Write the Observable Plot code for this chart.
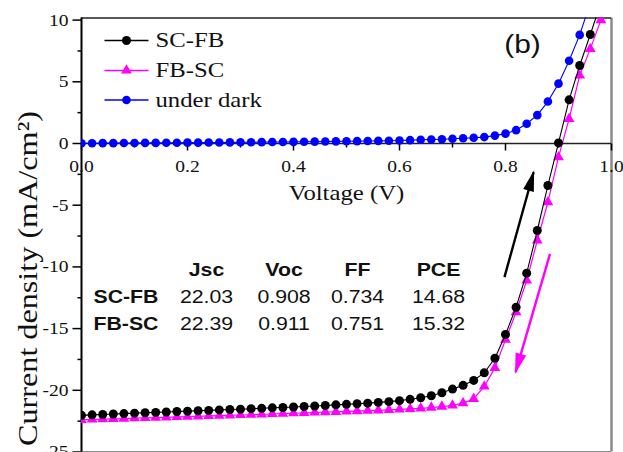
<!DOCTYPE html>
<html>
<head>
<meta charset="utf-8">
<script src="https://cdn.jsdelivr.net/npm/d3@7"></script>
<script src="https://cdn.jsdelivr.net/npm/@observablehq/plot@0.6"></script>
<style>
  html, body { margin: 0; padding: 0; background: #fff; overflow: hidden; }
</style>
</head>
<body>
<div id="chart"></div>
<script>
// J–V sweep data (voltage in V, current density in mA/cm²)
const voltage = [
  0.00, 0.02, 0.04, 0.06, 0.08, 0.10, 0.12, 0.14, 0.16, 0.18,
  0.20, 0.22, 0.24, 0.26, 0.28, 0.30, 0.32, 0.34, 0.36, 0.38,
  0.40, 0.42, 0.44, 0.46, 0.48, 0.50, 0.52, 0.54, 0.56, 0.58,
  0.60, 0.62, 0.64, 0.66, 0.68, 0.70, 0.72, 0.74, 0.76, 0.78,
  0.80, 0.82, 0.84, 0.86, 0.88, 0.90, 0.92, 0.94, 0.96, 0.98
];
const jScFb = [
  -22.03, -21.99, -21.96, -21.92, -21.89, -21.85, -21.82, -21.79, -21.76, -21.72,
  -21.69, -21.66, -21.63, -21.59, -21.56, -21.53, -21.49, -21.46, -21.42, -21.39,
  -21.35, -21.31, -21.27, -21.23, -21.18, -21.14, -21.09, -21.04, -20.98, -20.92,
  -20.84, -20.73, -20.60, -20.44, -20.20, -19.90, -19.60, -19.20, -18.58, -17.40,
  -15.48, -13.27, -10.51, -7.05, -3.40, 0.05, 3.54, 6.32, 8.83, 11.40
];
const jFbSc = [
  -22.39, -22.36, -22.34, -22.31, -22.29, -22.26, -22.24, -22.21, -22.19, -22.16,
  -22.14, -22.11, -22.08, -22.06, -22.03, -22.00, -21.98, -21.95, -21.92, -21.89,
  -21.86, -21.83, -21.80, -21.77, -21.74, -21.71, -21.68, -21.65, -21.62, -21.59,
  -21.55, -21.51, -21.46, -21.40, -21.32, -21.22, -21.04, -20.69, -19.69, -18.18,
  -15.90, -13.67, -11.10, -7.86, -4.76, -1.11, 2.00, 5.51, 7.67, 10.00
];
const jDark = [
  0.02, 0.02, 0.03, 0.03, 0.04, 0.04, 0.05, 0.05, 0.06, 0.06,
  0.07, 0.07, 0.08, 0.08, 0.09, 0.10, 0.10, 0.11, 0.12, 0.12,
  0.13, 0.14, 0.15, 0.16, 0.17, 0.18, 0.19, 0.20, 0.21, 0.22,
  0.24, 0.27, 0.30, 0.32, 0.35, 0.38, 0.43, 0.47, 0.52, 0.64,
  0.80, 1.08, 1.60, 2.30, 3.40, 4.85, 6.70, 8.80, 11.40
];

const seriesNames = ["SC-FB", "FB-SC", "under dark"];

// axis ticks
const xTicks = [0, 0.2, 0.4, 0.6, 0.8, 1.0];
const xTickLabels = ["0.0", "0.2", "0.4", "0.6", "0.8", "1.0"];
const xMinorTicks = [0.1, 0.3, 0.5, 0.7, 0.9];
const yTicks = [10, 5, 0, -5, -10, -15, -20, -25];
const yMinorTicks = [7.5, 2.5, -2.5, -7.5, -12.5, -17.5, -22.5];

// photovoltaic parameters table
const tableHeaders = ["Jsc", "Voc", "FF", "PCE"];
const tableRows = ["SC-FB", "FB-SC"];
const jsc = [22.03, 22.39];
const voc = [0.908, 0.911];
const ff = [0.734, 0.751];
const pce = [14.68, 15.32];

// ---------------------------------------------------------------------------
const W = 623, H = 470;
const mL = 81, mR = 12, mT = 17.5, mB = 18.5;
const yMax = 10.17, yMin = -25;
const SERIF = "'Liberation Serif', 'Times New Roman', serif";
const SANS = "'Liberation Sans', Arial, sans-serif";
const INK = "#111";
const STRETCH = 1.15;

const C_SCFB = "#000000", C_FBSC = "#ff00ff", C_DARK = "#0000ff";

const scfb = voltage.map((v, i) => ({v, j: jScFb[i]}));
const fbsc = voltage.map((v, i) => ({v, j: jFbSc[i]}));
const dark = jDark.map((j, i) => ({v: voltage[i], j}));

// stroke-only symbols used for ticks and legend line samples
const segment = (dx1, dy1, dx2, dy2) => ({
  draw(ctx) { ctx.moveTo(dx1, dy1); ctx.lineTo(dx2, dy2); }
});

// text placed relative to the frame's top-left corner (pixel offsets)
const label = (s, dx, dy, opts = {}) =>
  Plot.text([s], {x: 0, y: yMax, text: d => d, dx, dy, fill: INK,
    fontFamily: SERIF, ...opts});
const glyph = (dx, dy, opts) =>
  Plot.dot([0], {x: 0, y: yMax, dx, dy, ...opts});

// legend
const legendRows = [22.5, 52.5, 82];
const legendSpec = [
  {color: C_SCFB, symbol: "circle", r: 4.5},
  {color: C_FBSC, symbol: "triangle", r: 4},
  {color: C_DARK, symbol: "circle", r: 4.3}
];
const legendMarks = legendSpec.flatMap((s, i) => [
  glyph(45, legendRows[i], {symbol: segment(-22, 0, 22, 0), stroke: s.color, strokeWidth: 1.3, fill: "none"}),
  glyph(45, legendRows[i], {symbol: s.symbol, r: s.r, fill: s.color, stroke: "none"}),
  label(seriesNames[i], 74, legendRows[i], {fontSize: 21.5, textAnchor: "start"})
]);

// parameters table
const colX = [125, 202.5, 276, 357];
const rowY = [279.2, 305.8];
const tableMarks = [
  ...tableHeaders.map((h, c) =>
    label(h, colX[c], 252.5, {fontFamily: SANS, fontWeight: "bold", fontSize: 18.5, textAnchor: "middle"})),
  ...tableRows.flatMap((name, r) => [
    label(name, 12, rowY[r], {fontFamily: SANS, fontWeight: "bold", fontSize: 18.5, textAnchor: "start"}),
    ...[jsc[r].toFixed(2), voc[r].toFixed(3), ff[r].toFixed(3), pce[r].toFixed(2)].map((s, c) =>
      label(s, colX[c], rowY[r], {fontFamily: SANS, fontSize: 18.5, textAnchor: "middle"}))
  ])
];

// scan-direction arrows
const forwardArrow = [{v1: 0.798, j1: -10.83, v2: 0.853, j2: -2.33}];
const reverseArrow = [{v1: 0.884, j1: -8.94, v2: 0.819, j2: -18.53}];

const chart = Plot.plot({
  width: W,
  height: H,
  marginLeft: mL,
  marginRight: mR,
  marginTop: mT,
  marginBottom: mB,
  x: {domain: [0, 1], axis: null},
  y: {domain: [yMin, yMax], axis: null},
  style: {background: "#fff"},
  marks: [
    // frame
    Plot.ruleX([1], {stroke: "#8a8a8a", strokeWidth: 2.5}),
    Plot.ruleY([yMin], {stroke: "#8a8a8a", strokeWidth: 2}),
    Plot.ruleY([yMax], {stroke: "#222", strokeWidth: 1.5}),
    Plot.ruleX([0], {stroke: "#000", strokeWidth: 2}),
    Plot.ruleY([0], {stroke: "#222", strokeWidth: 1.4}),

    // ticks
    Plot.dot(xTicks, {x: d => d, y: 0, symbol: segment(0, 0, 0, 7), stroke: "#000", strokeWidth: 1.5, fill: "none"}),
    Plot.dot(xMinorTicks, {x: d => d, y: 0, symbol: segment(0, 0, 0, 4), stroke: "#000", strokeWidth: 1.5, fill: "none"}),
    Plot.dot(yTicks, {x: 0, y: d => d, symbol: segment(0, 0, -9, 0), stroke: "#000", strokeWidth: 1.5, fill: "none"}),
    Plot.dot(yMinorTicks, {x: 0, y: d => d, symbol: segment(0, 0, -4, 0), stroke: "#000", strokeWidth: 1.5, fill: "none"}),

    // tick labels
    Plot.text(xTicks, {x: d => d, y: 0, text: (d, i) => xTickLabels[i], dy: 23.5,
      fontFamily: SERIF, fontSize: 17, fill: INK}),
    Plot.text(yTicks, {x: 0, y: d => d, text: d => String(d), dx: -13, textAnchor: "end",
      fontFamily: SERIF, fontSize: 17, fill: INK}),

    // axis titles
    label("Voltage (V)", 265, 175.5, {fontSize: 21.5}),
    label("Current density (mA/cm²)", -53, 260.5, {fontSize: 28, rotate: -90}),
    label("(b)", 441, 26.5, {fontFamily: SANS, fontSize: 26}),

    // curves
    Plot.line(fbsc, {x: "v", y: "j", stroke: C_FBSC, strokeWidth: 1.2, clip: true}),
    Plot.dot(fbsc, {x: "v", y: "j", symbol: "triangle", r: 4, fill: C_FBSC, stroke: "none", clip: true}),
    Plot.line(scfb, {x: "v", y: "j", stroke: C_SCFB, strokeWidth: 1.1, clip: true}),
    Plot.dot(scfb, {x: "v", y: "j", r: 4.5, fill: C_SCFB, stroke: "none", clip: true}),
    Plot.line(dark, {x: "v", y: "j", stroke: C_DARK, strokeWidth: 1.1, clip: true}),
    Plot.dot(dark, {x: "v", y: "j", r: 4.3, fill: C_DARK, stroke: "none", clip: true}),

    // scan-direction arrows
    Plot.link(forwardArrow, {x1: "v1", y1: "j1", x2: "v2", y2: "j2", stroke: "#000", strokeWidth: 2.4, markerEnd: "arrow"}),
    Plot.link(reverseArrow, {x1: "v1", y1: "j1", x2: "v2", y2: "j2", stroke: C_FBSC, strokeWidth: 2.4, markerEnd: "arrow"}),

    ...legendMarks,
    ...tableMarks
  ]
});

// solid arrowheads
chart.querySelectorAll("marker").forEach(m => {
  const color = m.getAttribute("stroke") || "#000";
  m.setAttribute("viewBox", "-20 -8 24 16");
  m.setAttribute("markerWidth", 24);
  m.setAttribute("markerHeight", 16);
  m.setAttribute("markerUnits", "userSpaceOnUse");
  m.setAttribute("refX", 0);
  m.setAttribute("refY", 0);
  m.querySelectorAll("path").forEach(p => {
    p.setAttribute("d", "M-19,-5.5L2,0L-19,5.5Z");
    p.setAttribute("fill", color);
    p.setAttribute("stroke", "none");
  });
});

// widen the glyphs horizontally about each text anchor
chart.querySelectorAll("text").forEach(t => {
  const x = parseFloat(t.getAttribute("x")) || 0;
  const y = parseFloat(t.getAttribute("y")) || 0;
  const tr = t.getAttribute("transform") || "";
  t.setAttribute("transform",
    `${tr} translate(${x},${y}) scale(${STRETCH},1) translate(${-x},${-y})`.trim());
});

document.getElementById("chart").appendChild(chart);
</script>
</body>
</html>
